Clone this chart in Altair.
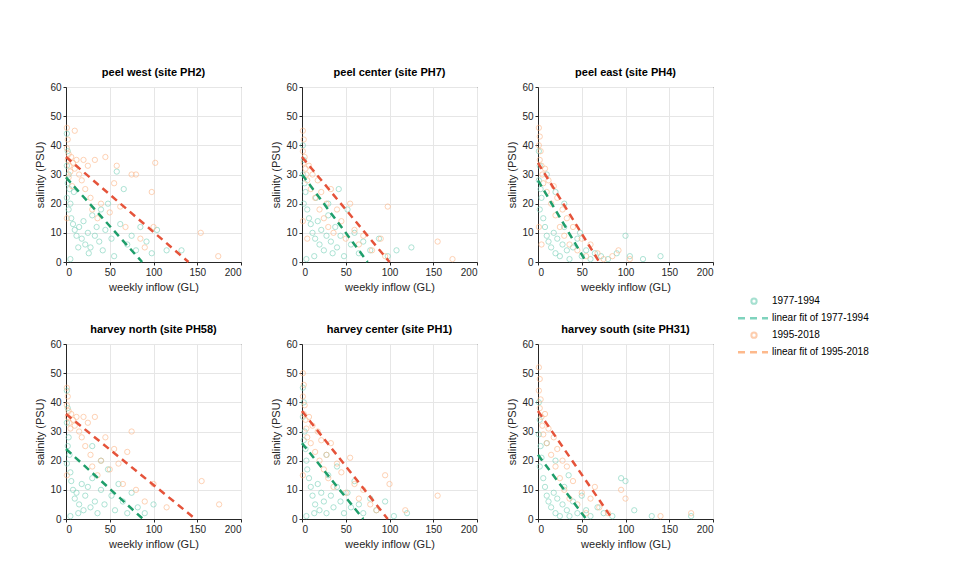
import altair as alt
import pandas as pd

# 各站點：標題、1977-1994 散點、1995-2018 散點、兩條線性擬合的端點 (x0,y0,x1,y1)
TITLES = ["peel west (site PH2)", "peel center (site PH7)", "peel east (site PH4)",
          "harvey north (site PH58)", "harvey center (site PH1)", "harvey south (site PH31)"]

EARLY = [
    [(1, 44), (2, 38), (1, 33), (3, 30), (2, 27), (4, 25), (1, 22), (5, 20), (3, 18), (6, 15), (8, 13), (10, 11),
     (12, 9), (15, 12), (18, 8), (20, 14), (22, 6), (25, 10), (28, 5), (30, 16), (33, 9), (35, 12), (38, 7),
     (40, 18), (42, 4), (45, 11), (48, 20), (52, 8), (55, 2), (58, 31), (62, 13), (66, 25), (70, 6), (75, 9),
     (80, 4), (85, 12), (92, 7), (98, 3), (104, 11), (115, 4), (132, 4), (5, 1), (14, 5), (26, 3), (9, 24)],
    [(1, 40), (2, 35), (1, 30), (3, 27), (4, 24), (2, 20), (6, 18), (8, 15), (10, 13), (12, 10), (15, 8),
     (18, 14), (20, 6), (22, 11), (25, 4), (28, 9), (30, 16), (33, 7), (35, 3), (38, 12), (40, 5), (44, 9),
     (48, 2), (52, 18), (56, 6), (60, 10), (65, 3), (70, 7), (78, 4), (88, 8), (98, 2), (108, 4), (125, 5),
     (5, 1), (14, 2), (42, 25), (16, 22), (30, 20)],
    [(1, 38), (2, 33), (1, 28), (3, 25), (4, 22), (2, 18), (6, 15), (8, 12), (10, 9), (12, 7), (15, 5),
     (18, 10), (20, 3), (22, 8), (25, 2), (28, 6), (30, 12), (33, 4), (36, 1), (40, 5), (45, 8), (50, 2),
     (55, 4), (60, 1), (65, 3), (72, 2), (80, 1), (90, 3), (100, 9), (105, 2), (120, 1), (140, 2), (30, 20),
     (20, 24), (48, 10), (10, 30)],
    [(1, 44), (2, 38), (1, 33), (3, 28), (2, 25), (4, 22), (1, 19), (5, 16), (6, 13), (8, 10), (10, 7),
     (12, 9), (15, 5), (18, 12), (20, 3), (22, 8), (25, 11), (28, 4), (30, 14), (33, 6), (36, 2), (40, 10),
     (44, 5), (48, 17), (52, 8), (56, 3), (60, 12), (65, 6), (70, 2), (75, 9), (82, 4), (90, 2), (100, 5),
     (5, 1), (14, 2), (30, 25), (40, 20)],
    [(1, 45), (2, 40), (1, 35), (3, 30), (2, 27), (4, 24), (5, 20), (6, 17), (8, 14), (10, 11), (12, 8),
     (15, 5), (18, 12), (20, 3), (22, 9), (25, 6), (28, 2), (30, 15), (33, 8), (36, 4), (40, 11), (44, 6),
     (48, 2), (52, 9), (56, 4), (60, 13), (65, 5), (70, 2), (78, 7), (85, 3), (95, 6), (105, 1), (120, 2),
     (5, 1), (14, 2), (28, 22), (40, 18)],
    [(1, 40), (2, 34), (1, 29), (3, 25), (4, 21), (2, 18), (6, 14), (8, 11), (10, 8), (12, 6), (15, 4),
     (18, 9), (20, 2), (22, 7), (25, 1), (28, 5), (30, 11), (33, 3), (36, 1), (40, 6), (45, 2), (50, 8),
     (55, 3), (60, 1), (68, 4), (75, 2), (85, 1), (95, 14), (100, 13), (110, 3), (130, 1), (175, 1), (20, 20),
     (35, 15), (10, 26)],
]

LATE = [
    [(1, 46), (2, 42), (1, 39), (3, 37), (2, 35), (4, 33), (5, 31), (3, 29), (6, 36), (8, 34), (10, 32),
     (12, 35), (10, 45), (15, 30), (18, 28), (20, 35), (22, 25), (25, 33), (28, 22), (30, 18), (33, 35),
     (36, 15), (40, 20), (45, 36), (50, 17), (55, 27), (58, 33), (62, 19), (68, 12), (75, 30), (80, 30),
     (85, 8), (90, 5), (98, 24), (102, 34), (100, 12), (154, 10), (174, 2), (1, 15), (7, 26)],
    [(1, 45), (2, 42), (1, 38), (3, 36), (2, 34), (4, 32), (5, 30), (6, 28), (8, 33), (10, 25), (12, 30),
     (15, 22), (18, 28), (20, 18), (22, 24), (25, 15), (28, 20), (30, 12), (33, 25), (36, 10), (40, 18),
     (45, 14), (50, 8), (55, 20), (60, 11), (65, 6), (70, 9), (80, 4), (90, 8), (95, 2), (98, 19), (155, 7),
     (172, 1), (1, 14), (6, 8)],
    [(1, 46), (2, 43), (1, 40), (3, 38), (2, 35), (4, 33), (5, 30), (6, 27), (8, 32), (10, 24), (12, 28),
     (15, 20), (18, 26), (20, 16), (22, 22), (25, 12), (28, 18), (30, 9), (33, 15), (36, 6), (40, 12),
     (45, 4), (50, 8), (55, 2), (60, 6), (68, 3), (75, 1), (85, 2), (92, 4), (105, 1), (1, 12), (4, 6)],
    [(1, 45), (2, 42), (1, 39), (3, 37), (2, 35), (4, 33), (5, 31), (6, 36), (8, 34), (10, 32), (12, 35),
     (15, 30), (18, 28), (20, 35), (22, 25), (25, 33), (28, 22), (30, 18), (33, 35), (36, 15), (40, 20),
     (45, 28), (50, 17), (55, 24), (60, 19), (65, 12), (70, 23), (75, 30), (80, 10), (90, 6), (100, 12),
     (115, 4), (155, 13), (175, 5), (1, 15)],
    [(1, 50), (2, 46), (1, 42), (3, 39), (2, 36), (4, 34), (5, 31), (6, 28), (8, 35), (10, 26), (12, 32),
     (15, 23), (18, 30), (20, 20), (22, 27), (25, 17), (28, 22), (30, 14), (33, 26), (36, 11), (40, 19),
     (45, 16), (50, 9), (55, 21), (60, 12), (65, 7), (70, 10), (78, 5), (85, 3), (95, 15), (100, 12),
     (118, 3), (155, 8), (1, 15)],
    [(1, 52), (2, 48), (1, 44), (3, 41), (2, 38), (4, 35), (5, 32), (6, 29), (8, 36), (10, 26), (12, 31),
     (15, 22), (18, 28), (20, 18), (22, 24), (25, 14), (28, 20), (30, 10), (33, 18), (36, 7), (40, 13),
     (45, 5), (50, 9), (55, 2), (60, 7), (65, 11), (70, 4), (80, 2), (95, 10), (100, 7), (140, 1), (175, 2)],
]

FIT_EARLY = [(0, 29, 87, 0), (0, 30, 75, 0), (0, 28, 55, 0), (0, 24, 88, 0), (0, 26, 70, 0), (0, 22, 55, 0)]
FIT_LATE = [(0, 36, 140, 0), (0, 36, 100, 0), (0, 34, 70, 0), (0, 36, 148, 0), (0, 37, 98, 0), (0, 37, 85, 0)]

LEGEND_LABELS = ["1977-1994", "linear fit of 1977-1994", "1995-2018", "linear fit of 1995-2018"]

C_EARLY = "#7fd3bd"
C_LATE = "#fdb98c"
C_FIT_EARLY = "#1f9e6b"
C_FIT_LATE = "#e5533a"
FONT = "Liberation Sans"

x_enc = alt.X("x:Q", title="weekly inflow (GL)", scale=alt.Scale(domain=[0, 200]),
              axis=alt.Axis(values=[0, 50, 100, 150, 200]))
y_enc = alt.Y("y:Q", title="salinity (PSU)", scale=alt.Scale(domain=[0, 60]),
              axis=alt.Axis(values=[0, 10, 20, 30, 40, 50, 60]))


def panel(i):
    early = pd.DataFrame(EARLY[i], columns=["x", "y"])
    late = pd.DataFrame(LATE[i], columns=["x", "y"])
    fe, fl = FIT_EARLY[i], FIT_LATE[i]
    fits = pd.DataFrame({"x": [fe[0], fe[2], fl[0], fl[2]], "y": [fe[1], fe[3], fl[1], fl[3]],
                         "g": ["e", "e", "l", "l"]})
    pts_e = alt.Chart(early).mark_point(shape="circle", filled=False, size=28, strokeWidth=0.8,
                                        color=C_EARLY, opacity=0.8).encode(x=x_enc, y=y_enc)
    pts_l = alt.Chart(late).mark_point(shape="circle", filled=False, size=28, strokeWidth=0.8,
                                       color=C_LATE, opacity=0.8).encode(x=x_enc, y=y_enc)
    lines = alt.Chart(fits).mark_line(strokeDash=[7, 5], strokeWidth=2.5).encode(
        x=x_enc, y=y_enc, detail="g:N",
        color=alt.Color("g:N", scale=alt.Scale(domain=["e", "l"], range=[C_FIT_EARLY, C_FIT_LATE]), legend=None))
    return alt.layer(pts_e, pts_l, lines).properties(
        width=175, height=175, title=alt.Title(TITLES[i], fontSize=11, fontWeight="bold", font=FONT))


# 自製圖例：四個項目垂直排列在右側中間
leg = pd.DataFrame({"label": LEGEND_LABELS, "k": [0, 1, 2, 3]})
leg_y = alt.Y("k:Q", axis=None, scale=alt.Scale(domain=[-12.6, 12.7], reverse=True))
legend = alt.layer(
    alt.Chart(leg[leg.k % 2 == 0]).mark_point(shape="circle", filled=False, size=28).encode(
        x=alt.value(30), y=leg_y,
        color=alt.Color("label:N", scale=alt.Scale(domain=["1977-1994", "1995-2018"], range=[C_EARLY, C_LATE]),
                        legend=None)),
    alt.Chart(leg[leg.k % 2 == 1]).mark_rule(strokeDash=[7, 5], strokeWidth=2.5).encode(
        x=alt.value(14), x2=alt.value(44), y=leg_y,
        color=alt.Color("label:N", scale=alt.Scale(domain=LEGEND_LABELS[1::2], range=[C_FIT_EARLY, C_FIT_LATE]),
                        legend=None)),
    alt.Chart(leg).mark_text(align="left", fontSize=10, font=FONT, dx=2).encode(
        x=alt.value(46), y=leg_y, text="label:N"),
).properties(width=170, height=430, view=alt.ViewConfig(stroke=None))

grid = alt.vconcat(
    alt.hconcat(*[panel(i) for i in range(3)], spacing=28),
    alt.hconcat(*[panel(i) for i in range(3, 6)], spacing=28),
    spacing=30,
)

chart = alt.hconcat(grid, legend, spacing=10).resolve_scale(color="independent").properties(
    padding={"left": 26, "top": 58, "right": 5, "bottom": 5}
).configure_axis(
    labelFont=FONT, titleFont=FONT, labelFontSize=10, titleFontSize=11, titleFontWeight="normal",
    labelColor="#262626", titleColor="#262626", gridColor="#e6e6e6", domainColor="#262626",
    tickColor="#262626", tickSize=3, labelPadding=2,
).configure_view(stroke="#262626")

chart.save("out.html", embed_options={"renderer": "svg", "actions": False})
